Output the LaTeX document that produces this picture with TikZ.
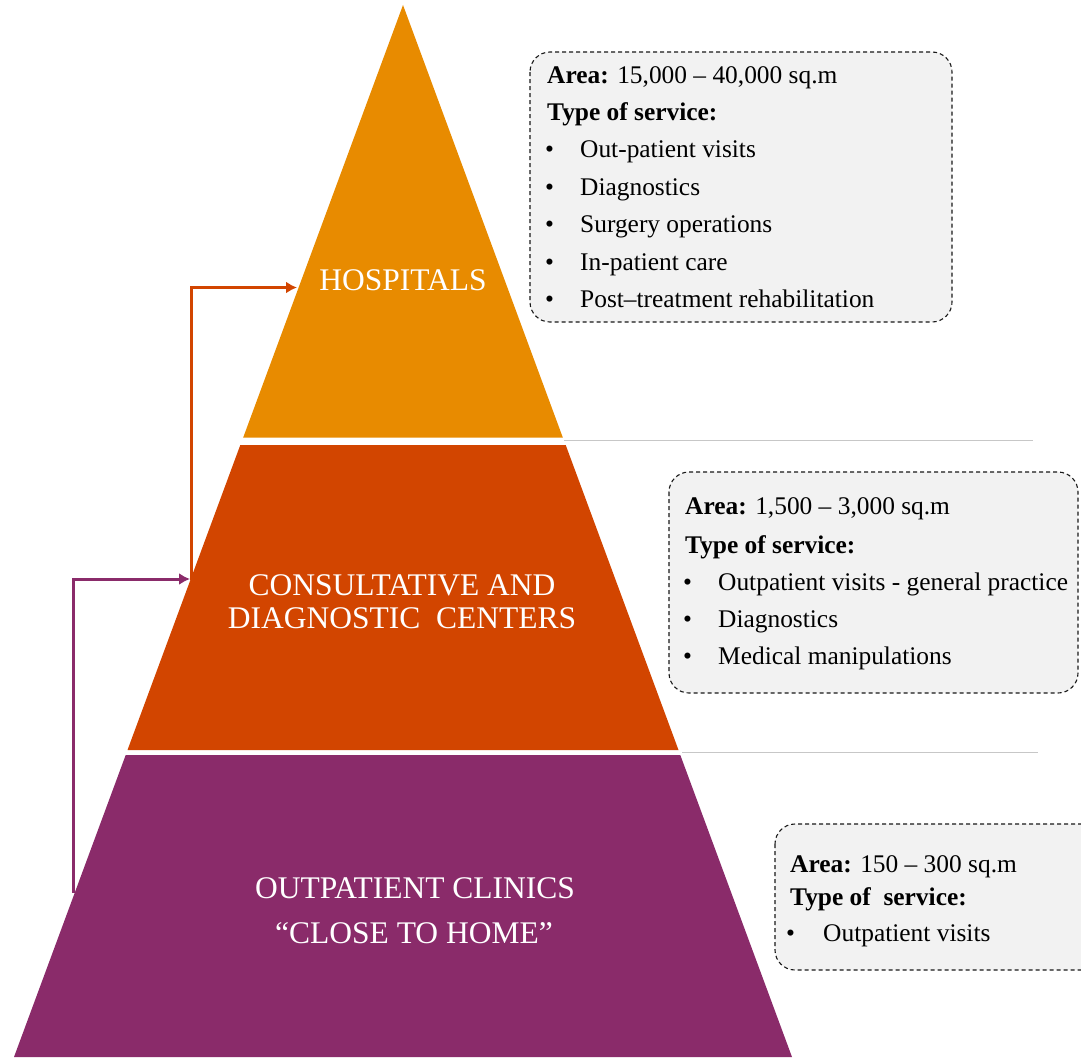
\documentclass[tikz,border=0pt]{standalone}
\usepackage{fontspec}
\setmainfont{Liberation Serif}
\usetikzlibrary{arrows.meta}

\definecolor{hosporange}{RGB}{232,139,0}
\definecolor{cdcred}{RGB}{210,69,0}
\definecolor{opcpurple}{RGB}{138,43,106}
\definecolor{boxgray}{RGB}{242,242,242}

\begin{document}
\begin{tikzpicture}[>={Latex[length=11pt,width=12pt]}, x=1pt, y=-1pt,
  lbl/.style={white, inner sep=0, font=\fontsize{31.5}{36}\selectfont},
  txt/.style={anchor=base west, inner sep=0, font=\fontsize{25.4}{30}\selectfont},
  infobox/.style={black!90, line width=1.1, dash pattern=on 4 off 3, rounded corners=20, fill=boxgray}]

\clip (0,0) rectangle (1081,1057);

%% pyramid
\fill[hosporange] (403,5) -- (562.8,437.5) -- (243.2,437.5) -- cycle;
\fill[cdcred] (240.3,445) -- (565.7,445) -- (678.5,750) -- (127.5,750) -- cycle;
\fill[opcpurple] (125.7,755) -- (680.3,755) -- (792,1057) -- (14,1057) -- cycle;

\node[lbl, anchor=base] (hosp) at (403,290) {HOSPITALS};
\node[lbl, anchor=base] (cdc1) at (402,595) {CONSULTATIVE AND};
\node[lbl, anchor=base] (cdc2) at (402,628) {DIAGNOSTIC\ \ CENTERS};
\node[lbl, anchor=base] (opc1) at (415,898) {OUTPATIENT CLINICS};
\node[lbl, anchor=base] (opc2) at (414,943) {“CLOSE TO HOME”};

%% separators
\draw[black!22, line width=1] (564,440) -- (1033,440);
\draw[black!22, line width=1] (682,752) -- (1038,752);

%% arrows
\coordinate (cdcL) at (191.5,580);
\coordinate (hospL) at (297,287.5);
\coordinate (opcL) at (73.5,893);
\coordinate (cdcM) at (190,579);
\draw[->, cdcred, line width=3] (cdcL) |- (hospL);
\draw[->, opcpurple, line width=3] (opcL) |- (cdcM);

%% hospitals box
\draw[infobox] (530,52) rectangle (952,322);
\node[txt] (area1) at (547,83) {\textbf{Area:} 15,000 -- 40,000 sq.m};
\node[txt] (type1) at (547,120) {\textbf{Type of service:}};
\foreach \t [count=\i] in {Out-patient visits, Diagnostics, Surgery operations, In-patient care, Post--treatment rehabilitation}
{
\node[txt] (bulA\i) at (545,120+37.5*\i) {\textbullet};
\node[txt] (itemA\i) at (580,120+37.5*\i) {\t};
}

%% centers box
\draw[infobox] (669,472) rectangle (1078,693);
\node[txt] (area2) at (685,514) {\textbf{Area:} 1,500 -- 3,000 sq.m};
\node[txt] (type2) at (685,553) {\textbf{Type of service:}};
\foreach \t [count=\i] in {Outpatient visits - general practice, Diagnostics, Medical manipulations}
{
\node[txt] (bulB\i) at (683,553+37*\i) {\textbullet};
\node[txt] (itemB\i) at (718,553+37*\i) {\t};
}

%% clinics box
\draw[infobox] (775,824) rectangle (1110,970);
\node[txt] (area3) at (790,872) {\textbf{Area:} 150 -- 300 sq.m};
\node[txt] (type3) at (790,905) {\textbf{Type of\ \ service:}};
\node[txt] (bulC1) at (786,941) {\textbullet};
\node[txt] (itemC1) at (823,941) {Outpatient visits};

\end{tikzpicture}
\end{document}
